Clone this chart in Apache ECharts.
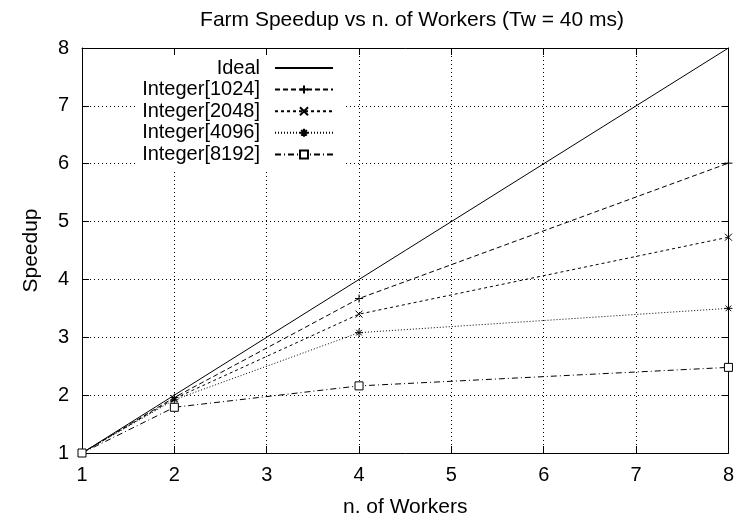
<!DOCTYPE html>
<html>
<head>
<meta charset="utf-8">
<script src="https://cdn.jsdelivr.net/npm/echarts@6/dist/echarts.min.js"></script>
<style>
  html, body { margin: 0; padding: 0; background: #fff; }
  #chart { width: 737px; height: 523px; }
</style>
</head>
<body>
<div id="chart"></div>
<script>
// data
const workers = [1, 2, 4, 8]
const idealX = [1, 8]
const idealY = [1, 8]
const int1024 = [1, 1.96, 3.67, 6.01]
const int2048 = [1, 1.94, 3.40, 4.73]
const int4096 = [1, 1.92, 3.08, 3.50]
const int8192 = [1, 1.79, 2.16, 2.48]
const xTicks = [1, 2, 3, 4, 5, 6, 7, 8]

const pairs = (xs, ys) => xs.map((x, i) => [x, ys[i]])

const FONT = "Liberation Sans"
const plus = "path://M0,5L10,5M5,0L5,10"
const cross = "path://M0,0L10,10M10,0L0,10"
const star = "path://M0,5L10,5M5,0L5,10M1.5,1.5L8.5,8.5M8.5,1.5L1.5,8.5"

const chart = echarts.init(document.getElementById("chart"))

// ticks inside on every side, gnuplot style
const frameAxis = {
    min: 1,
    max: 8,
    interval: 1,
    axisLine: { show: true, onZero: false, lineStyle: { color: "#000", width: 1 } },
    axisTick: { show: true, inside: true, length: 7, lineStyle: { color: "#000" } },
    axisLabel: { show: false },
    splitLine: { show: false },
}

const lineSeries = (name, ys, dash, symbol, size, fill) => ({
    name: name,
    type: "line",
    data: pairs(workers, ys),
    symbol: symbol,
    symbolSize: size,
    showSymbol: true,
    lineStyle: { color: "#000", width: 1, type: dash },
    itemStyle: { color: fill, borderColor: "#000", borderWidth: 1 },
    emphasis: { disabled: true },
    z: 3,
})

const option = {
    animation: false,
    backgroundColor: "#fff",
    title: {
        text: "Farm Speedup vs n. of Workers (Tw = 40 ms)",
        left: 407,
        top: 5,
        textAlign: "center",
        textStyle: { fontFamily: FONT, fontSize: 21, fontWeight: "normal", color: "#000" },
    },
    grid: { left: 82, right: 5, top: 48, bottom: 64 },
    legend: {
        orient: "vertical",
        left: 135,
        top: 56,
        padding: [2, 12, 6, 5],
        align: "right",
        itemWidth: 58,
        itemHeight: 10,
        itemGap: 1.6,
        backgroundColor: "#fff",
        z: 4,
        textStyle: {
            fontFamily: FONT,
            fontSize: 20,
            color: "#000",
            width: 120,
            align: "right",
            lineHeight: 14,
            padding: [0, 10, 0, 0],
        },
        data: [
            { name: "Ideal", itemStyle: { opacity: 0 } },
            "Integer[1024]", "Integer[2048]", "Integer[4096]", "Integer[8192]",
        ],
    },
    xAxis: [
        {
            type: "value",
            min: 1,
            max: 8,
            interval: 1,
            name: "n. of Workers",
            nameLocation: "middle",
            nameGap: 44,
            nameTextStyle: { fontFamily: FONT, fontSize: 21, color: "#000" },
            axisLine: { show: true, onZero: false, lineStyle: { color: "#000", width: 1 } },
            axisTick: { show: true, inside: true, length: 7, lineStyle: { color: "#000" } },
            axisLabel: {
                fontFamily: FONT, fontSize: 20, color: "#000", margin: 12,
                formatter: v => (xTicks.includes(v) ? String(v) : ""),
            },
            splitLine: { show: true, lineStyle: { color: "#000", width: 1, type: [1, 3] } },
        },
        Object.assign({ type: "value", position: "top" }, frameAxis),
    ],
    yAxis: [
        {
            type: "value",
            min: 1,
            max: 8,
            interval: 1,
            name: "Speedup",
            nameLocation: "middle",
            nameGap: 40,
            nameTextStyle: { fontFamily: FONT, fontSize: 21, color: "#000" },
            axisLine: { show: true, onZero: false, lineStyle: { color: "#000", width: 1 } },
            axisTick: { show: true, inside: true, length: 7, lineStyle: { color: "#000" } },
            axisLabel: { fontFamily: FONT, fontSize: 20, color: "#000", margin: 13 },
            splitLine: { show: true, lineStyle: { color: "#000", width: 1, type: [1, 3] } },
        },
        Object.assign({ type: "value", position: "right" }, frameAxis),
    ],
    series: [
        {
            name: "Ideal",
            type: "line",
            data: pairs(idealX, idealY),
            symbol: "none",
            lineStyle: { color: "#000", width: 1, type: "solid" },
            itemStyle: { color: "#000" },
            emphasis: { disabled: true },
            z: 3,
        },
        lineSeries("Integer[1024]", int1024, [5, 3], plus, 8, "#000"),
        lineSeries("Integer[2048]", int2048, [3, 3], cross, 7, "#000"),
        lineSeries("Integer[4096]", int4096, [1, 2], star, 8, "#000"),
        lineSeries("Integer[8192]", int8192, [6, 3, 1, 3], "rect", 8, "#fff"),
    ],
}

chart.setOption(option)
</script>
</body>
</html>
